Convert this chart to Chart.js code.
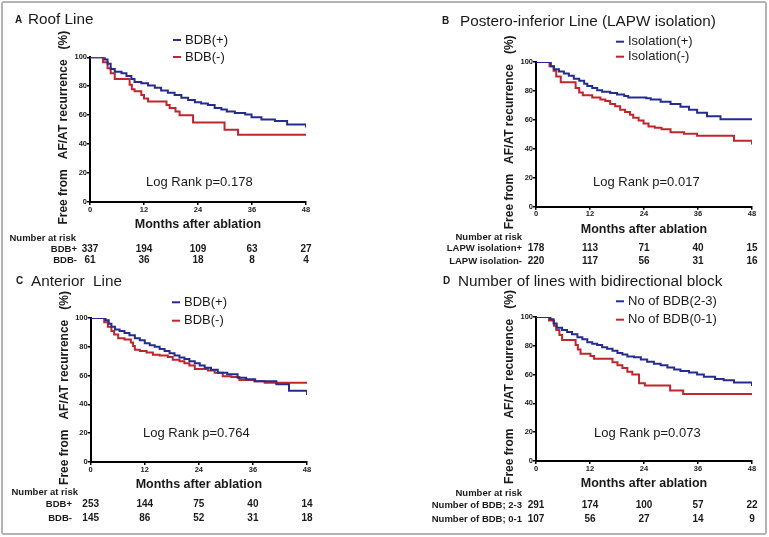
<!DOCTYPE html>
<html>
<head>
<meta charset="utf-8">
<script src="https://cdn.jsdelivr.net/npm/chart.js@4"></script>
<style>
  html, body { margin: 0; padding: 0; background: #fff; }
  #wrap { position: relative; width: 769px; height: 537px; overflow: hidden; }
  canvas { position: absolute; }
  #frame { position: absolute; left: 1px; top: 1px; width: 766px; height: 534px; box-sizing: border-box;
           border: 2px solid #b3b3b3; border-radius: 3px; pointer-events: none; }
</style>
</head>
<body>
<div id="wrap">
  <canvas id="cA" width="385" height="268" style="left:0;top:0"></canvas>
  <canvas id="cB" width="384" height="268" style="left:385px;top:0"></canvas>
  <canvas id="cC" width="385" height="269" style="left:0;top:268px"></canvas>
  <canvas id="cD" width="384" height="269" style="left:385px;top:268px"></canvas>
  <div id="frame"></div>
</div>
<script>
// x ticks and risk-table times
var xTicks = [0, 12, 24, 36, 48];
var yTicks = [0, 20, 40, 60, 80, 100];

// A - roof line
var roofPosT = [0,3.3,3.9,4.6,5.5,7,8.1,9.2,9.9,11.4,12.9,14.4,15.8,17.3,18.8,20.3,21.8,23.3,24.7,26.2,27.7,29.2,30.4,32.2,34.5,35.9,38.1,41.1,43.8,48];
var roofPosS = [100,98.5,95.5,92,90,89,87,85,83,82,80.5,79,77,75.5,74,72,70.5,69,68,67,65,64,62.5,61.5,60.5,58.5,57,56,53.5,51.5];
var roofNegT = [0,2.9,3.9,4.6,5.5,8.8,9.3,9.9,11.4,12,12.9,17,17.7,19,19.9,22.9,29.9,32.9,48];
var roofNegS = [100,96.5,92.5,89,85,81,78,76.5,74,71.5,69.5,67,65,62.5,60,55,50,46.5,46.5];
var roofRiskPos = [337, 194, 109, 63, 27];
var roofRiskNeg = [61, 36, 18, 8, 4];

// B - postero-inferior line
var postPosT = [0,3.3,4,5.1,6.2,7.3,8.4,9.6,10.7,11.4,12.5,13.6,14.7,16.5,18,19.6,20.5,24.5,25.5,27.7,29.9,32.1,34,35.8,38,41,48];
var postPosS = [100,97,95,93.5,92,90.5,88.5,87,85,83.5,82,80.5,79.5,78.5,77.5,76.5,75.5,75,74,72.5,71,69,67,65,62.5,60.5,60.5];
var postNegT = [0,3,3.9,4.5,5.5,8.8,9.6,10.4,12.5,14.3,15.4,16.5,17.6,18.7,19.8,20.9,21.6,22.8,23.9,25,26.4,27.9,29.9,32.9,35.8,44,48];
var postNegS = [100,97,94,90,86,82,79,77,75.5,74,73,71,69.5,67,65.5,63.5,61.5,59.5,57.5,55.5,54.5,53.5,51.5,50.5,49,45.5,43];
var postRiskPos = [178, 113, 71, 40, 15];
var postRiskNeg = [220, 117, 56, 31, 16];

// C - anterior line
var antPosT = [0,3.3,4,4.6,5.4,6.4,7.5,8.6,9.8,10.9,12,13.1,14.2,15.3,16.4,17.5,18.6,19.7,20.8,21.9,23.1,24.2,25.3,26.7,28.2,30.3,32.6,34.5,36.5,41.2,44,48];
var antPosS = [100,98.5,96,94,92,91,89.5,88,86,84.5,82.5,81,80,78.5,77,75.5,74,72.5,71.5,70,68.5,67,65.5,64,62,61,58.5,57.5,56,54,49.5,46.5];
var antNegT = [0,3,3.8,4.6,5.2,6.1,7.5,8.9,9.4,9.8,10.9,12.4,13.8,15.3,17.1,18.2,19.7,20.8,21.9,23.1,26,27.5,29.3,31.2,33,36.3,38.6,48];
var antNegS = [100,97,94,91,88.5,86,85,83,80.5,78,77,76,74.5,74,73,71,70,68.5,67,64.5,63.5,62,59.5,59,57,56,55,55];
var antRiskPos = [253, 144, 75, 40, 14];
var antRiskNeg = [145, 86, 52, 31, 18];

// D - number of lines with bidirectional block
var numHiT = [0,3.2,3.9,4.6,5.8,6.9,8,9.2,10.3,11.4,12.5,13.6,14.7,15.8,17,18.1,19.2,20.3,21.8,23.3,24.7,26.2,27.7,29.2,30.7,32.1,34,35.8,37.3,39.8,41.7,44,48];
var numHiS = [100,98.5,95.5,92.5,91,89.5,88,86,84.5,82.5,81.5,80.5,79,78,76.5,75,74,72.5,72,70.5,69,67.5,66.5,65,63.5,62.5,61.5,60,58.5,57,56,54.5,52];
var numLoT = [0,2.9,4,4.5,5.2,5.8,8.8,9.3,9.9,12.1,12.9,17,18.1,19.2,20.3,21.4,22.9,24.2,29.8,32.7,48];
var numLoS = [100,97.5,94,91,87.5,84,80.5,77.5,74.5,73,71,68.5,66.5,64.5,62,60,54,52.5,49,46.5,46.5];
var numRiskHi = [291, 174, 100, 57, 22];
var numRiskLo = [107, 56, 27, 14, 9];

var FONT = '"Liberation Sans", Arial, Helvetica, sans-serif';
var INK = '#1a1a1a';
var BLUE = '#262c8e';
var RED = '#c0262c';
var Y_TITLE = 'Free from   AF/AT recurrence   (%)';

Chart.defaults.font.family = FONT;
Chart.defaults.color = INK;

function pts(t, s) {
  return t.map(function (v, i) { return { x: v, y: s[i] }; });
}

//panel layouts, in each canvas's own pixels
var panels = {
  cA: {
    area: { left: 90, top: 57.3, right: 306, bottom: 202 },
    letter: 'A', letterX: 15, titleX: 28, titleY: 20, title: 'Roof Line',
    legend: ['BDB(+)', 'BDB(-)'], legX: 173, legY: [40, 57],
    series: [[roofPosT, roofPosS], [roofNegT, roofNegS]],
    logRank: 'Log Rank p=0.178', lrX: 146, lrY: 182,
    headX: 76, headY: 238.3, labX: 77, riskY: [249, 260.7],
    riskLabels: ['BDB+', 'BDB-'], risk: [roofRiskPos, roofRiskNeg]
  },
  cB: {
    area: { left: 151, top: 62, right: 367, bottom: 206.7 },
    letter: 'B', letterX: 57, titleX: 75, titleY: 21.7, title: 'Postero-inferior Line (LAPW isolation)',
    legend: ['Isolation(+)', 'Isolation(-)'], legX: 231, legY: [41.7, 56.7],
    series: [[postPosT, postPosS], [postNegT, postNegS]],
    logRank: 'Log Rank p=0.017', lrX: 208, lrY: 182.7,
    headX: 137, headY: 237.7, labX: 137, riskY: [248.5, 261.5],
    riskLabels: ['LAPW isolation+', 'LAPW isolation-'], risk: [postRiskPos, postRiskNeg]
  },
  cC: {
    area: { left: 90.7, top: 50, right: 307, bottom: 194 },
    letter: 'C', letterX: 16, titleX: 31, titleY: 13.3, title: 'Anterior  Line',
    legend: ['BDB(+)', 'BDB(-)'], legX: 172, legY: [34.3, 52.7],
    series: [[antPosT, antPosS], [antNegT, antNegS]],
    logRank: 'Log Rank p=0.764', lrX: 143, lrY: 165.7,
    headX: 78, headY: 224.3, labX: 72, riskY: [236, 250],
    riskLabels: ['BDB+', 'BDB-'], risk: [antRiskPos, antRiskNeg]
  },
  cD: {
    area: { left: 151, top: 49, right: 367, bottom: 193 },
    letter: 'D', letterX: 58, titleX: 73, titleY: 13.3, title: 'Number of lines with bidirectional block',
    legend: ['No of BDB(2-3)', 'No of BDB(0-1)'], legX: 231, legY: [33.3, 51.7],
    series: [[numHiT, numHiS], [numLoT, numLoS]],
    logRank: 'Log Rank p=0.073', lrX: 209, lrY: 165,
    headX: 137, headY: 225, labX: 137, riskY: [237.3, 251.7],
    riskLabels: ['Number of BDB; 2-3', 'Number of BDB; 0-1'], risk: [numRiskHi, numRiskLo]
  }
};

//titles, legend, log rank, y title and the risk table
var overlay = {
  id: 'overlay',
  afterDraw: function (chart) {
    var p = panels[chart.canvas.id];
    var ctx = chart.ctx, a = chart.chartArea, xs = chart.scales.x;
    ctx.save();
    ctx.fillStyle = INK;
    ctx.textBaseline = 'middle';
    ctx.textAlign = 'left';
    ctx.font = 'bold 10px ' + FONT;
    ctx.fillText(p.letter, p.letterX, p.titleY);
    ctx.font = '15.3px ' + FONT;
    ctx.fillText(p.title, p.titleX, p.titleY);

    ctx.font = '13px ' + FONT;
    chart.data.datasets.forEach(function (ds, i) {
      var y = p.legY[i];
      ctx.strokeStyle = ds.borderColor;
      ctx.lineWidth = 2;
      ctx.beginPath();
      ctx.moveTo(p.legX, y);
      ctx.lineTo(p.legX + 8, y);
      ctx.stroke();
      ctx.fillText(ds.label, p.legX + 12, y);
    });

    ctx.fillText(p.logRank, p.lrX, p.lrY);

    ctx.save();
    ctx.translate(a.left - 26, (a.top + a.bottom) / 2 - 2);
    ctx.rotate(-Math.PI / 2);
    ctx.font = 'bold 12px ' + FONT;
    ctx.textAlign = 'center';
    ctx.fillText(Y_TITLE, 0, 0);
    ctx.restore();

    ctx.font = 'bold 9.5px ' + FONT;
    ctx.textAlign = 'right';
    ctx.fillText('Number at risk', p.headX, p.headY);
    p.riskLabels.forEach(function (lab, i) { ctx.fillText(lab, p.labX, p.riskY[i]); });
    ctx.font = 'bold 10px ' + FONT;
    ctx.textAlign = 'center';
    p.risk.forEach(function (row, i) {
      row.forEach(function (n, j) {
        ctx.fillText(String(n), xs.getPixelForValue(xTicks[j]), p.riskY[i]);
      });
    });
    ctx.restore();
  }
};

function makePanel(id) {
  var p = panels[id];
  var cv = document.getElementById(id);
  var W = cv.width, H = cv.height;
  var xH = H - p.area.bottom;
  var axisGrid = { display: true, drawOnChartArea: false, drawTicks: true, tickLength: 3, color: '#000', lineWidth: 1.5 };
  var axisBorder = { display: true, color: '#000', width: 2 };
  return new Chart(cv, {
    type: 'line',
    data: {
      datasets: [
        { label: p.legend[0], data: pts(p.series[0][0], p.series[0][1]), borderColor: BLUE },
        { label: p.legend[1], data: pts(p.series[1][0], p.series[1][1]), borderColor: RED }
      ]
    },
    options: {
      responsive: false,
      animation: false,
      devicePixelRatio: 1,
      layout: { padding: { left: 0, top: p.area.top, right: W - p.area.right, bottom: 0 } },
      elements: {
        point: { radius: 0 },
        line: { borderWidth: 2, stepped: 'before', tension: 0, fill: false }
      },
      plugins: { legend: { display: false }, tooltip: { enabled: false } },
      scales: {
        x: {
          type: 'linear', min: 0, max: 48,
          afterBuildTicks: function (s) { s.ticks = xTicks.map(function (v) { return { value: v }; }); },
          afterFit: function (s) { s.height = xH; },
          grid: axisGrid, border: axisBorder,
          ticks: { padding: 0, maxRotation: 0, font: { size: 7.5, weight: 'bold' }, color: INK },
          title: { display: true, text: 'Months after ablation', color: INK,
                   font: { size: 12.5, weight: 'bold' }, padding: { top: 0, bottom: xH - 30 } }
        },
        y: {
          type: 'linear', min: 0, max: 100,
          afterBuildTicks: function (s) { s.ticks = yTicks.map(function (v) { return { value: v }; }); },
          afterFit: function (s) { s.width = p.area.left; },
          grid: axisGrid, border: axisBorder,
          ticks: { padding: 0, font: { size: 7.5, weight: 'bold' }, color: INK }
        }
      }
    },
    plugins: [overlay]
  });
}

['cA', 'cB', 'cC', 'cD'].forEach(makePanel);
</script>
</body>
</html>
